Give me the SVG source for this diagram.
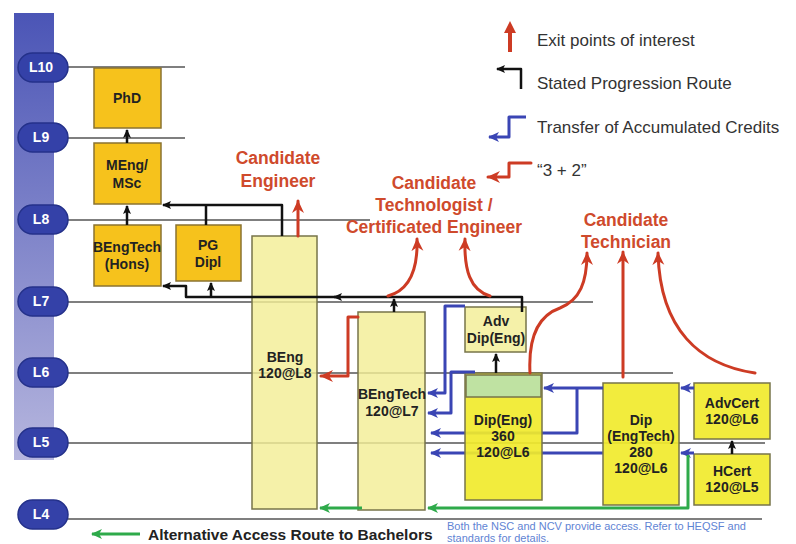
<svg xmlns="http://www.w3.org/2000/svg" width="796" height="544" viewBox="0 0 796 544">
<defs>
  <linearGradient id="bar" x1="0" y1="0" x2="0" y2="1">
    <stop offset="0" stop-color="#4b55b6"/>
    <stop offset="1" stop-color="#b6b6de"/>
  </linearGradient>
  <marker id="ak" markerUnits="userSpaceOnUse" markerWidth="10" markerHeight="10" refX="8" refY="5" orient="auto">
    <path d="M0,1 L9,5 L0,9 L2,5 z" fill="#111"/>
  </marker>
  <marker id="ab" markerUnits="userSpaceOnUse" markerWidth="12" markerHeight="12" refX="10" refY="6" orient="auto">
    <path d="M0,1 L11,6 L0,11 L3,6 z" fill="#3a45b4"/>
  </marker>
  <marker id="ag" markerUnits="userSpaceOnUse" markerWidth="12" markerHeight="12" refX="10" refY="6" orient="auto">
    <path d="M0,1 L11,6 L0,11 L3,6 z" fill="#2eaa4a"/>
  </marker>
  <marker id="ar" markerUnits="userSpaceOnUse" markerWidth="14" markerHeight="14" refX="12" refY="7" orient="auto">
    <path d="M0,1 L13,7 L0,13 L4,7 z" fill="#cd3b24"/>
  </marker>
</defs>
<style>
  .lvl { fill: #3441a8; stroke: #24318a; stroke-width: 1.5; }
  .lvt { font-family: "Liberation Sans", Arial, sans-serif; font-weight: bold; font-size: 14px; fill: #ffffff; text-anchor: middle; }
  .grid { stroke: #555; stroke-width: 1.5; fill: none; }
  .gold { fill: #f6c21c; stroke: #8b7330; stroke-width: 1.5; }
  .light { fill: #f3ee96; fill-opacity: 0.82; stroke: #77744a; stroke-width: 1.5; }
  .bright { fill: #f1ea2c; fill-opacity: 0.92; stroke: #77744a; stroke-width: 1.5; }
  .band { fill: #bfe2a2; stroke: #77744a; stroke-width: 1.5; }
  .bt { font-family: "Liberation Sans", Arial, sans-serif; font-weight: bold; font-size: 14px; fill: #222; text-anchor: middle; }
  .red { font-family: "Liberation Sans", Arial, sans-serif; font-weight: bold; font-size: 17.5px; fill: #cf4a2c; text-anchor: middle; }
  .leg { font-family: "Liberation Sans", Arial, sans-serif; font-size: 17px; fill: #333; }
  .k { stroke: #111; stroke-width: 2.5; fill: none; stroke-linejoin: round; }
  .b { stroke: #3a45b4; stroke-width: 3; fill: none; stroke-linejoin: round; }
  .g { stroke: #2eaa4a; stroke-width: 3; fill: none; stroke-linejoin: round; }
  .r { stroke: #cd3b24; stroke-width: 3; fill: none; stroke-linejoin: round; stroke-linecap: round; }
</style>

<!-- level bar and levels -->
<rect x="14" y="13" width="40" height="447" fill="url(#bar)"/>
<g id="gridlines">
  <line class="grid" x1="68" y1="67" x2="185" y2="67"/>
  <line class="grid" x1="68" y1="138" x2="185" y2="138"/>
  <line class="grid" x1="68" y1="220" x2="370" y2="220"/>
  <line class="grid" x1="68" y1="302" x2="593" y2="302"/>
  <line class="grid" x1="68" y1="373" x2="673" y2="373"/>
  <line class="grid" x1="68" y1="443" x2="765" y2="443"/>
  <line class="grid" x1="68" y1="519" x2="762" y2="519"/>
</g>
<g id="L10"><rect class="lvl" x="18" y="53" width="50" height="29" rx="14.5"/><text class="lvt" x="41" y="72">L10</text></g>
<g id="L9"><rect class="lvl" x="18" y="123" width="50" height="29" rx="14.5"/><text class="lvt" x="41" y="142">L9</text></g>
<g id="L8"><rect class="lvl" x="18" y="205" width="50" height="29" rx="14.5"/><text class="lvt" x="41" y="224">L8</text></g>
<g id="L7"><rect class="lvl" x="18" y="287" width="50" height="29" rx="14.5"/><text class="lvt" x="41" y="306">L7</text></g>
<g id="L6"><rect class="lvl" x="18" y="358" width="50" height="29" rx="14.5"/><text class="lvt" x="41" y="377">L6</text></g>
<g id="L5"><rect class="lvl" x="18" y="428" width="50" height="29" rx="14.5"/><text class="lvt" x="41" y="447">L5</text></g>
<g id="L4"><rect class="lvl" x="18" y="500" width="50" height="29" rx="14.5"/><text class="lvt" x="41" y="519">L4</text></g>

<!-- connectors passing behind boxes -->
<g id="connectors-behind">
  <path class="b" d="M577,388 V433 H431" marker-end="url(#ab)"/>
  <path class="b" d="M603,453 H431" marker-end="url(#ab)"/>
</g>

<!-- nodes -->
<g id="phd"><rect class="gold" x="94" y="68" width="67" height="60"/><text class="bt" x="127" y="103">PhD</text></g>
<g id="meng"><rect class="gold" x="94" y="143" width="67" height="61"/><text class="bt" x="127" y="170">MEng/</text><text class="bt" x="127" y="188">MSc</text></g>
<g id="bengtech-hons"><rect class="gold" x="94" y="225" width="67" height="61"/><text class="bt" x="127" y="252">BEngTech</text><text class="bt" x="127" y="269">(Hons)</text></g>
<g id="pgdipl"><rect class="gold" x="176" y="225" width="65" height="56"/><text class="bt" x="208" y="250">PG</text><text class="bt" x="208" y="267">Dipl</text></g>
<g id="beng"><rect class="light" x="252" y="236" width="65" height="273"/><text class="bt" x="285" y="362">BEng</text><text class="bt" x="285" y="378">120@L8</text></g>
<g id="bengtech"><rect class="light" x="358" y="312" width="67" height="198"/><text class="bt" x="392" y="399">BEngTech</text><text class="bt" x="392" y="416">120@L7</text></g>
<g id="advdip"><rect class="light" x="465" y="307" width="61" height="45"/><text class="bt" x="496" y="326">Adv</text><text class="bt" x="496" y="343">Dip(Eng)</text></g>
<g id="dipeng"><rect class="bright" x="465" y="373" width="77" height="127"/><rect class="band" x="466" y="375" width="75" height="22"/><text class="bt" x="503" y="425">Dip(Eng)</text><text class="bt" x="503" y="441">360</text><text class="bt" x="503" y="457">120@L6</text></g>
<g id="dipengtech"><rect class="bright" x="603" y="383" width="76" height="122"/><text class="bt" x="641" y="425">Dip</text><text class="bt" x="641" y="441">(EngTech)</text><text class="bt" x="641" y="457">280</text><text class="bt" x="641" y="473">120@L6</text></g>
<g id="advcert"><rect class="bright" x="694" y="383" width="76" height="56"/><text class="bt" x="732" y="408">AdvCert</text><text class="bt" x="732" y="424">120@L6</text></g>
<g id="hcert"><rect class="bright" x="694" y="454" width="76" height="51"/><text class="bt" x="732" y="476">HCert</text><text class="bt" x="732" y="492">120@L5</text></g>

<!-- connectors -->
<g id="connectors">
  <!-- stated progression (black) -->
  <path class="k" d="M127,143 V130" marker-end="url(#ak)"/>
  <path class="k" d="M127,225 V206" marker-end="url(#ak)"/>
  <path class="k" d="M282,236 V205 H163" marker-end="url(#ak)"/>
  <path class="k" d="M206,225 V205"/>
  <path class="k" d="M522,312 V297 H334" marker-end="url(#ak)"/>
  <path class="k" d="M340,297 H186 V286 H163" marker-end="url(#ak)"/>
  <path class="k" d="M211,297 V283" marker-end="url(#ak)"/>
  <path class="k" d="M394,312 V299" marker-end="url(#ak)"/>
  <path class="k" d="M496,373 V354" marker-end="url(#ak)"/>
  <path class="k" d="M732,454 V441" marker-end="url(#ak)"/>
  <!-- transfer of credits (blue) -->
  <path class="b" d="M694,388 H681" marker-end="url(#ab)"/>
  <path class="b" d="M694,453 H681" marker-end="url(#ab)"/>
  <path class="b" d="M603,388 H544" marker-end="url(#ab)"/>
  <path class="b" d="M465,306 H445 V393 H428" marker-end="url(#ab)"/>
  <path class="b" d="M475,372 H451 V413 H428" marker-end="url(#ab)"/>
  <!-- alternative access (green) -->
  <path class="g" d="M688,455 V508 H428" marker-end="url(#ag)"/>
  <path class="g" d="M362,508 H320" marker-end="url(#ag)"/>
  <!-- 3 + 2 (red) -->
  <path class="r" d="M358,317 H348 V376 H321" marker-end="url(#ar)"/>
  <!-- exit points (red) -->
  <path class="r" d="M298,236 V201" marker-end="url(#ar)"/>
  <path class="r" d="M388,296 C410,290 418,270 417,239" marker-end="url(#ar)"/>
  <path class="r" d="M490,296 C470,290 464,270 465,239" marker-end="url(#ar)"/>
  <path class="r" d="M530,373 C528,335 540,315 560,308 C580,300 587,282 587,253" marker-end="url(#ar)"/>
  <path class="r" d="M623,377 V252" marker-end="url(#ar)"/>
  <path class="r" d="M755,373 C700,365 660,330 658,253" marker-end="url(#ar)"/>
</g>

<!-- exit labels -->
<g id="exit-labels">
  <text class="red" x="278" y="164">Candidate</text>
  <text class="red" x="278" y="187">Engineer</text>
  <text class="red" x="434" y="189">Candidate</text>
  <text class="red" x="434" y="211">Technologist /</text>
  <text class="red" x="434" y="233">Certificated Engineer</text>
  <text class="red" x="626" y="226">Candidate</text>
  <text class="red" x="626" y="248">Technician</text>
</g>

<!-- legend -->
<g id="legend">
  <polygon points="510,21 516,33 512,33 512,52 508,52 508,33 504,33" fill="#cd3b24"/>
  <text class="leg" x="537" y="46">Exit points of interest</text>
  <path class="k" d="M521,89 V69 H497" marker-end="url(#ak)"/>
  <text class="leg" x="537" y="89">Stated Progression Route</text>
  <path class="b" d="M526,117 H509 V137 H489" marker-end="url(#ab)"/>
  <text class="leg" x="537" y="133">Transfer of Accumulated Credits</text>
  <path class="r" d="M531,163 H509 V177 H488" marker-end="url(#ar)"/>
  <text class="leg" x="537" y="176">“3 + 2”</text>
  <path class="g" d="M140,534 H92" marker-end="url(#ag)"/>
  <text x="148" y="540" font-family="Liberation Sans, Arial, sans-serif" font-weight="bold" font-size="15.5" fill="#222">Alternative Access Route to Bachelors</text>
  <text x="447" y="530" font-family="Liberation Sans, Arial, sans-serif" font-size="11" fill="#5f84d4">Both the NSC and NCV provide access. Refer to HEQSF and</text>
  <text x="447" y="542" font-family="Liberation Sans, Arial, sans-serif" font-size="11" fill="#5f84d4">standards for details.</text>
</g>
</svg>
